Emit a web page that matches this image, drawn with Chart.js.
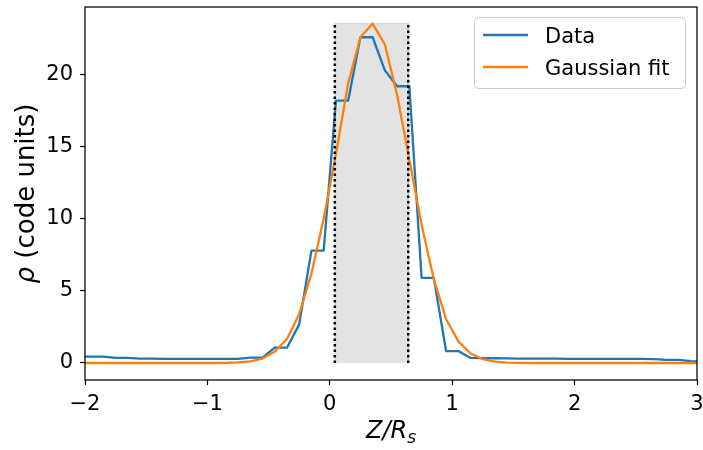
<!DOCTYPE html>
<html>
<head>
<meta charset="utf-8">
<script src="https://cdn.jsdelivr.net/npm/chart.js@4/dist/chart.umd.min.js"></script>
<style>
  html, body { margin: 0; padding: 0; background: #fff; }
  canvas { display: block; }
</style>
</head>
<body>
<canvas id="c" width="703" height="450"></canvas>
<script>
// ---- data ----
const zGrid = [-2.05,-1.95,-1.85,-1.75,-1.65,-1.55,-1.45,-1.35,-1.25,-1.15,-1.05,-0.95,-0.85,-0.75,-0.65,-0.55,-0.45,-0.35,-0.25,-0.15,-0.05,0.05,0.15,0.25,0.35,0.45,0.55,0.65,0.75,0.85,0.95,1.05,1.15,1.25,1.35,1.45,1.55,1.65,1.75,1.85,1.95,2.05,2.15,2.25,2.35,2.45,2.55,2.65,2.75,2.85,2.95,3.05];
const rhoData = [0.44,0.44,0.44,0.36,0.36,0.31,0.31,0.29,0.29,0.28,0.28,0.28,0.28,0.28,0.37,0.37,1.06,1.06,2.68,7.8,7.8,18.2,18.2,22.6,22.6,20.3,19.2,19.2,5.9,5.9,0.83,0.83,0.35,0.34,0.33,0.32,0.31,0.31,0.30,0.30,0.29,0.29,0.29,0.28,0.28,0.28,0.28,0.27,0.21,0.21,0.13,0.10];
const rhoFit = [0,0,0,0,0,0,0,0,0,0,0,0,0.01,0.04,0.11,0.31,0.79,1.66,3.4,6.2,10.0,14.5,19.4,22.6,23.55,22.1,18.6,14.1,9.6,5.8,3.05,1.5,0.66,0.26,0.09,0.03,0.01,0,0,0,0,0,0,0,0,0,0,0,0,0,0,0];
const bandEdges = [0.041, 0.641];
const bandTop = 23.55;
const xTicks = [-2,-1,0,1,2,3];
const yTicks = [0,5,10,15,20];
const seriesLabels = ['Data', 'Gaussian fit'];

const FONT = "'DejaVu Sans'";
Chart.defaults.font.family = FONT;
Chart.defaults.color = '#000';

const toPts = (xs, ys) => xs.map((x, i) => ({x: x, y: ys[i]}));
const fmt = v => (v < 0 ? '\u2212' + Math.abs(v) : String(v));

const bandPts = [
  {x: bandEdges[0], y: 0}, {x: bandEdges[0], y: bandTop},
  {x: bandEdges[1], y: bandTop}, {x: bandEdges[1], y: 0}
];

const framePlugin = {
  id: 'frame',
  afterDraw(chart) {
    const ctx = chart.ctx, a = chart.chartArea;
    ctx.save();
    // spines
    ctx.strokeStyle = '#000';
    ctx.lineWidth = 1.25;
    ctx.strokeRect(a.left, a.top, a.right - a.left, a.bottom - a.top);

    // legend
    const bx = 474.5, by = 17.5, bw = 211, bh = 71, r = 4;
    ctx.beginPath();
    ctx.moveTo(bx + r, by);
    ctx.lineTo(bx + bw - r, by); ctx.arcTo(bx + bw, by, bx + bw, by + r, r);
    ctx.lineTo(bx + bw, by + bh - r); ctx.arcTo(bx + bw, by + bh, bx + bw - r, by + bh, r);
    ctx.lineTo(bx + r, by + bh); ctx.arcTo(bx, by + bh, bx, by + bh - r, r);
    ctx.lineTo(bx, by + r); ctx.arcTo(bx, by, bx + r, by, r);
    ctx.closePath();
    ctx.fillStyle = 'rgba(255,255,255,0.8)';
    ctx.fill();
    ctx.strokeStyle = '#cccccc';
    ctx.lineWidth = 1;
    ctx.stroke();
    const ds = chart.data.datasets;
    const rows = [{ds: ds[1], y: 35}, {ds: ds[2], y: 67}];
    rows.forEach(row => {
      ctx.strokeStyle = row.ds.borderColor;
      ctx.lineWidth = 2.3;
      ctx.beginPath(); ctx.moveTo(483, row.y); ctx.lineTo(528, row.y); ctx.stroke();
      ctx.fillStyle = '#000';
      ctx.font = '21px ' + FONT;
      ctx.textAlign = 'left';
      ctx.textBaseline = 'alphabetic';
      ctx.fillText(row.ds.label, 545, row.y + 7.7);
    });

    // x axis title: Z/R_s
    const cx = (a.left + a.right) / 2;
    const main = 'Z/R', sub = 's';
    ctx.font = 'italic 24px ' + FONT;
    const wMain = ctx.measureText(main).width;
    ctx.font = 'italic 17px ' + FONT;
    const wSub = ctx.measureText(sub).width;
    let sx = cx - (wMain + wSub) / 2;
    ctx.textAlign = 'left';
    ctx.textBaseline = 'alphabetic';
    ctx.font = 'italic 24px ' + FONT;
    ctx.fillText(main, sx, 438);
    ctx.font = 'italic 17px ' + FONT;
    ctx.fillText(sub, sx + wMain, 442.5);

    // y axis title: rho (code units)
    ctx.translate(33.5, (a.top + a.bottom) / 2);
    ctx.rotate(-Math.PI / 2);
    const p1 = '\u03c1', p2 = ' (code units)';
    ctx.font = 'italic 26px ' + FONT;
    const w1 = ctx.measureText(p1).width;
    ctx.font = '26px ' + FONT;
    const w2 = ctx.measureText(p2).width;
    let tx = -(w1 + w2) / 2;
    ctx.font = 'italic 26px ' + FONT;
    ctx.fillText(p1, tx, 0);
    ctx.font = '26px ' + FONT;
    ctx.fillText(p2, tx + w1, 0);
    ctx.restore();
  }
};

new Chart(document.getElementById('c'), {
  type: 'line',
  data: {
    datasets: [
      {
        label: 'band', data: bandPts, order: 5,
        borderColor: 'rgba(128,128,128,0.25)', borderWidth: 1,
        backgroundColor: 'rgba(128,128,128,0.22)', fill: 'origin',
        pointRadius: 0, tension: 0
      },
      {
        label: seriesLabels[0], data: toPts(zGrid, rhoData), order: 3,
        borderColor: '#1f77b4', borderWidth: 2.3, fill: false,
        pointRadius: 0, tension: 0, borderJoinStyle: 'round'
      },
      {
        label: seriesLabels[1], data: toPts(zGrid, rhoFit), order: 2,
        borderColor: '#ff7f0e', borderWidth: 2.3, fill: false,
        pointRadius: 0, tension: 0, borderJoinStyle: 'round'
      },
      {
        label: 'edgeL', data: [{x: bandEdges[0], y: 0}, {x: bandEdges[0], y: bandTop}], order: 1,
        borderColor: '#000', borderWidth: 2.5, borderDash: [2.5, 3], fill: false,
        pointRadius: 0, tension: 0
      },
      {
        label: 'edgeR', data: [{x: bandEdges[1], y: 0}, {x: bandEdges[1], y: bandTop}], order: 0,
        borderColor: '#000', borderWidth: 2.5, borderDash: [2.5, 3], fill: false,
        pointRadius: 0, tension: 0
      }
    ]
  },
  options: {
    responsive: false,
    animation: false,
    devicePixelRatio: 1,
    layout: { padding: { top: 7, right: 6, left: 0, bottom: 0 } },
    plugins: { legend: { display: false }, tooltip: { enabled: false } },
    scales: {
      x: {
        type: 'linear', min: -2, max: 3,
        afterBuildTicks: s => { s.ticks = xTicks.map(v => ({value: v})); },
        afterFit: s => { s.height = 70; s.paddingLeft = 0; s.paddingRight = 0; },
        ticks: { callback: v => fmt(v), font: { size: 21 }, padding: 7, maxRotation: 0, color: '#000' },
        grid: { drawOnChartArea: false, drawTicks: true, tickLength: 5, tickWidth: 1.2, color: '#000' },
        border: { display: false }
      },
      y: {
        type: 'linear', min: -1.18, max: 24.7,
        afterBuildTicks: s => { s.ticks = yTicks.map(v => ({value: v})); },
        afterFit: s => { s.width = 85; s.paddingTop = 0; s.paddingBottom = 0; },
        ticks: { callback: v => fmt(v), font: { size: 21 }, padding: 7, color: '#000' },
        grid: { drawOnChartArea: false, drawTicks: true, tickLength: 5, tickWidth: 1.2, color: '#000' },
        border: { display: false }
      }
    }
  },
  plugins: [framePlugin]
});
</script>
</body>
</html>
